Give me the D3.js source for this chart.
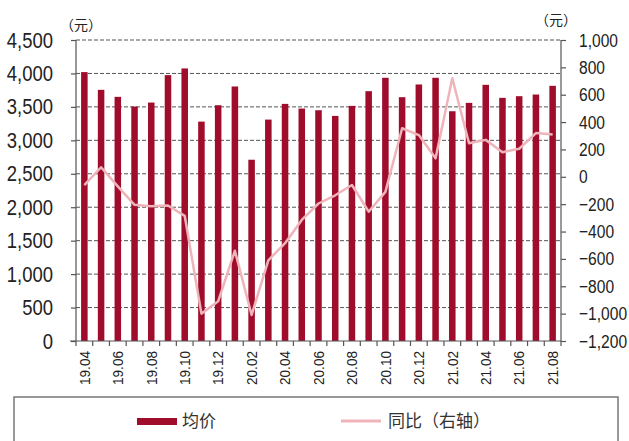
<!DOCTYPE html>
<html>
<head>
<meta charset="utf-8">
<script src="https://cdn.jsdelivr.net/npm/d3@7"></script>
<style>
  body { margin: 0; background: #fff; }
  svg { display: block; }
</style>
</head>
<body>
<svg id="chart"></svg>
<script>
const width = 629;
const height = 441;

const months = ["19.04","19.05","19.06","19.07","19.08","19.09","19.10","19.11","19.12",
  "20.01","20.02","20.03","20.04","20.05","20.06","20.07","20.08","20.09","20.10","20.11","20.12",
  "21.01","21.02","21.03","21.04","21.05","21.06","21.07","21.08"];
const avgPrice = [4020,3755,3650,3505,3565,3975,4075,3280,3525,3805,2710,3310,3545,3475,3450,
  3365,3515,3735,3935,3645,3835,3935,3435,3560,3830,3635,3660,3685,3815];
const yoy = [-60,70,-70,-205,-215,-210,-285,-1000,-910,-540,-1010,-610,-485,-315,-195,
  -135,-60,-255,-110,355,305,135,720,245,270,180,205,320,310];
const leftTicks = [0,500,1000,1500,2000,2500,3000,3500,4000,4500];
const rightTicks = [-1200,-1000,-800,-600,-400,-200,0,200,400,600,800,1000];
const labelMonths = months.filter((d, i) => i % 2 === 0);

const barColor = "#a00d2c";
const lineColor = "#efb4b9";
const numFont = "'Liberation Sans', Arial, sans-serif";
const cjkFont = "'Noto Sans CJK SC', sans-serif";

const plotLeft = 76, plotRight = 561, plotTop = 40, plotBottom = 341;

const svg = d3.select('#chart').attr('width', width).attr('height', height);

const x = d3.scaleBand().domain(months).range([plotLeft, plotRight]).paddingInner(0.61).paddingOuter(0.305);
const yL = d3.scaleLinear().domain([0, 4500]).range([plotBottom, plotTop]);
const yR = d3.scaleLinear().domain([-1200, 1000]).range([plotBottom, plotTop]);

// Gridlines
svg.append('g')
  .selectAll('line')
  .data(leftTicks.filter(d => d > 0))
  .join('line')
  .attr('x1', plotLeft).attr('x2', plotRight)
  .attr('y1', d => yL(d)).attr('y2', d => yL(d))
  .style('stroke', '#555').style('stroke-width', 1).style('stroke-dasharray', '4,2');

// Bars
svg.append('g')
  .selectAll('rect')
  .data(avgPrice)
  .join('rect')
  .attr('x', (d, i) => x(months[i]))
  .attr('y', d => yL(d))
  .attr('width', x.bandwidth())
  .attr('height', d => plotBottom - yL(d))
  .style('fill', barColor);

// Line
const line = d3.line()
  .x((d, i) => x(months[i]) + x.bandwidth() / 2)
  .y(d => yR(d));
svg.append('path')
  .datum(yoy)
  .attr('d', line)
  .style('fill', 'none').style('stroke', lineColor).style('stroke-width', 2.5)
  .style('stroke-linejoin', 'round');

// Left axis
const axisL = svg.append('g')
  .attr('transform', `translate(${plotLeft},0)`)
  .call(d3.axisLeft(yL).tickValues(leftTicks).tickSize(5).tickPadding(18).tickFormat(d3.format(',')));
axisL.select('.domain').attr('d', `M0,${plotTop}V${plotBottom}`);

// Right axis
const axisR = svg.append('g')
  .attr('transform', `translate(${plotRight},0)`)
  .call(d3.axisRight(yR).tickValues(rightTicks).tickSize(5).tickPadding(13).tickFormat(d3.format(',')));
axisR.select('.domain').attr('d', `M0,${plotTop}V${plotBottom}`);

[axisL, axisR].forEach(a => {
  a.selectAll('.domain, .tick line').style('stroke', '#555').style('stroke-width', 1.2);
  a.selectAll('text').style('font-family', numFont).style('fill', '#222');
});
axisL.selectAll('text').style('font-size', '22px');
axisR.selectAll('text').style('font-size', '19px');
// tick labels in the picture are set in a condensed face: squeeze them horizontally
const squeezeL = 0.84, squeezeR = 0.82;
axisL.selectAll('text')
  .attr('x', -23 / squeezeL)
  .attr('transform', `scale(${squeezeL},1)`);
axisR.selectAll('text')
  .attr('x', 18 / squeezeR)
  .attr('transform', `scale(${squeezeR},1)`);

// Bottom axis: ticks at category boundaries
const bounds = months.map(m => x(m) - x.step() * x.paddingInner() / 2).concat([plotRight]);
svg.append('line')
  .attr('x1', plotLeft - 6).attr('x2', plotRight)
  .attr('y1', plotBottom).attr('y2', plotBottom)
  .style('stroke', '#555').style('stroke-width', 1.2);
svg.append('g')
  .selectAll('line')
  .data(bounds)
  .join('line')
  .attr('x1', d => d).attr('x2', d => d)
  .attr('y1', plotBottom).attr('y2', plotBottom + 5)
  .style('stroke', '#555').style('stroke-width', 1.2);

svg.append('g')
  .selectAll('text')
  .data(labelMonths)
  .join('text')
  .attr('transform', d => `translate(${x(d) + x.bandwidth() / 2},${plotBottom + 10}) rotate(-90)`)
  .attr('text-anchor', 'end')
  .attr('dy', '0.35em')
  .attr('textLength', 34)
  .attr('lengthAdjust', 'spacingAndGlyphs')
  .style('font-family', numFont).style('font-size', '15px').style('fill', '#222')
  .text(d => d);

// Unit labels
svg.append('text')
  .attr('x', 81).attr('y', 25).attr('dy', '0.35em').attr('text-anchor', 'middle')
  .style('font-family', cjkFont).style('font-size', '14px').style('fill', '#222')
  .text('（元）');
svg.append('text')
  .attr('x', 556).attr('y', 20).attr('dy', '0.35em').attr('text-anchor', 'middle')
  .style('font-family', cjkFont).style('font-size', '14px').style('fill', '#222')
  .text('（元）');

// Legend
svg.append('rect')
  .attr('x', 14).attr('y', 397).attr('width', 604).attr('height', 60)
  .style('fill', 'none').style('stroke', '#777').style('stroke-width', 1.5);
svg.append('rect')
  .attr('x', 137).attr('y', 418).attr('width', 40).attr('height', 7)
  .style('fill', barColor);
svg.append('text')
  .attr('x', 182).attr('y', 421).attr('dy', '0.35em')
  .style('font-family', cjkFont).style('font-size', '17px').style('fill', '#333')
  .text('均价');
svg.append('line')
  .attr('x1', 341).attr('x2', 381).attr('y1', 421).attr('y2', 421)
  .style('stroke', lineColor).style('stroke-width', 3);
svg.append('text')
  .attr('x', 388).attr('y', 421).attr('dy', '0.35em')
  .style('font-family', cjkFont).style('font-size', '17px').style('fill', '#333')
  .text('同比（右轴）');
</script>
</body>
</html>
